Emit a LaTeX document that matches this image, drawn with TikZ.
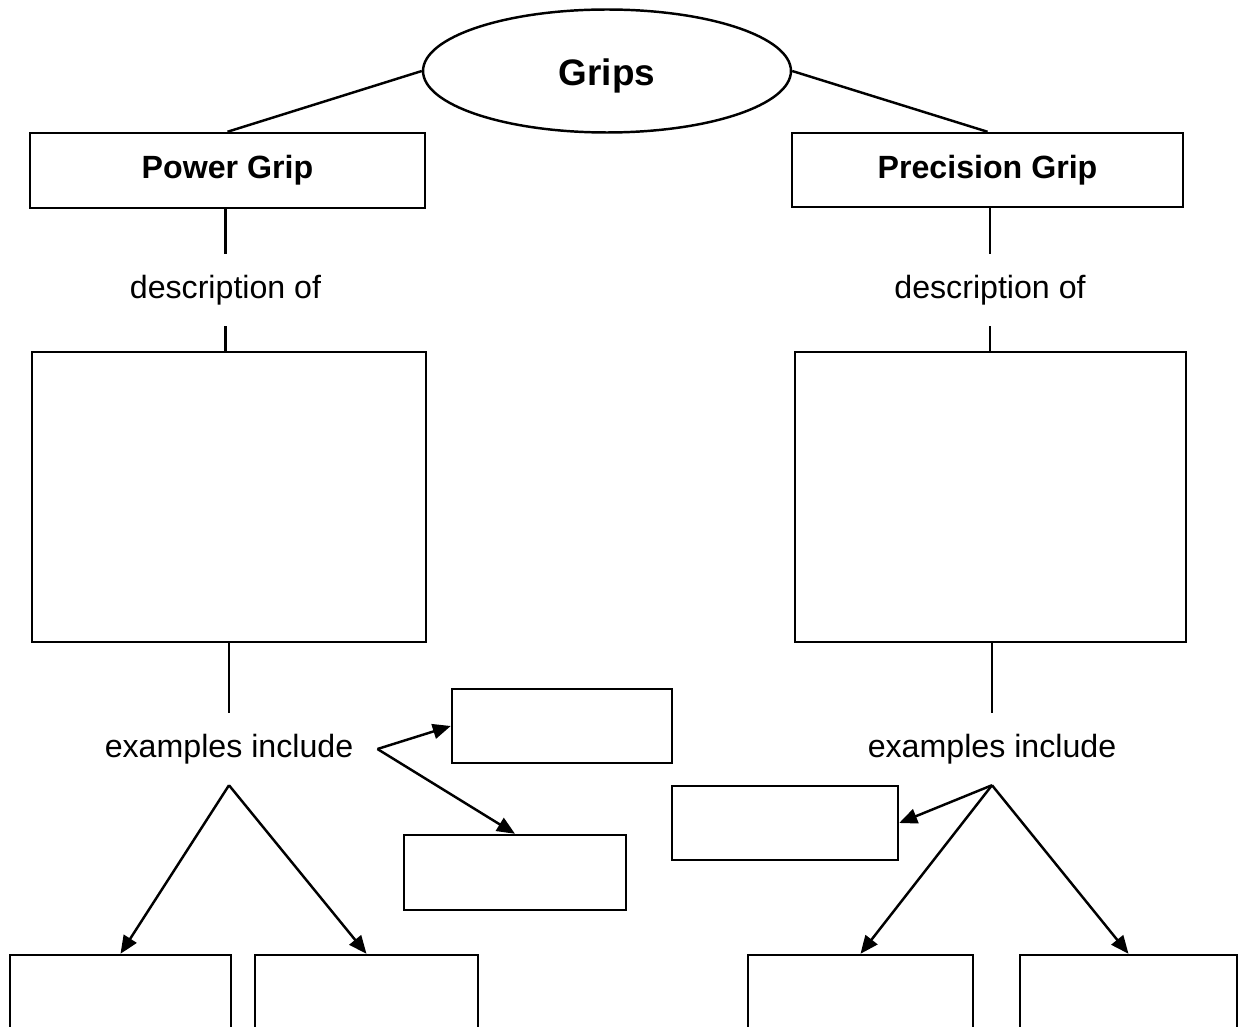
\documentclass[tikz,border=0pt]{standalone}
\usepackage{fontspec}
\setmainfont{Liberation Sans}
\usetikzlibrary{shapes.geometric,arrows.meta}
\begin{document}
\begin{tikzpicture}[x = .02cm, y = -.02cm, line width = 1.4pt,
    every node/.style = {font = \fontsize{18.3}{22}\selectfont},
    box/.style = {draw, inner sep = 0pt},
    link/.style = {inner sep = 0pt, minimum height = 1.4cm},
    arr/.style = {-{Triangle[length = .36cm, width = .3cm]}}]
  \useasboundingbox (0,0) rectangle (1238,1027);
  \clip (0,0) rectangle (1238,1027);
  \node [draw, ellipse, inner sep = 0pt, minimum width = 7.36cm, minimum height = 2.46cm,
    text height = 16pt, text depth = 0pt,
    font = \fontsize{21}{25}\selectfont\bfseries] (grips) at (607,71) {Grips};
  \node [box, minimum width = 7.9cm, minimum height = 1.5cm, font = \fontsize{18.3}{22}\selectfont\bfseries]
    (power) at (227.5,170.5) {Power Grip};
  \node [box, minimum width = 7.82cm, minimum height = 1.48cm, font = \fontsize{18.3}{22}\selectfont\bfseries]
    (precision) at (987.5,170) {Precision Grip};
  \draw (grips.west) -- (power.north);
  \draw (grips.east) -- (precision.north);
  % description of
  \node [link] (pdesc) at (225.5,290) {description of};
  \node [link] (qdesc) at (990,290) {description of};
  \node [box, minimum width = 7.88cm, minimum height = 5.8cm] (pbig) at (229,497) {};
  \node [box, minimum width = 7.82cm, minimum height = 5.8cm] (qbig) at (990.5,497) {};
  \draw (power.south -| pdesc.north) -- (pdesc.north);
  \draw (pdesc.south) -- (pbig.north -| pdesc.south);
  \draw (precision.south -| qdesc.north) -- (qdesc.north);
  \draw (qdesc.south) -- (qbig.north -| qdesc.south);
  % examples include
  \node [link, inner xsep = .46cm] (pex) at (229,749) {examples include};
  \node [link] (qex) at (992,749) {examples include};
  \draw (pbig.south -| pex.north) -- (pex.north);
  \draw (qbig.south -| qex.north) -- (qex.north);
  \node [box, minimum width = 4.4cm, minimum height = 1.48cm] (pa) at (562,726) {};
  \node [box, minimum width = 4.44cm, minimum height = 1.5cm] (pb) at (515,872.5) {};
  \node [box, minimum width = 4.42cm, minimum height = 4cm] (pc) at (120.5,1055) {};
  \node [box, minimum width = 4.46cm, minimum height = 4cm] (pd) at (366.5,1055) {};
  \node [box, minimum width = 4.52cm, minimum height = 1.48cm] (qa) at (785,823) {};
  \node [box, minimum width = 4.5cm, minimum height = 4cm] (qb) at (860.5,1055) {};
  \node [box, minimum width = 4.34cm, minimum height = 4cm] (qc) at (1128.5,1055) {};
  \draw [arr] (pex.east) -- (pa.west);
  \draw [arr] (pex.east) -- (pb.north);
  \draw [arr] (pex.south) -- (pc.north);
  \draw [arr] (pex.south) -- (pd.north);
  \draw [arr] (qex.south) -- (qa.east);
  \draw [arr] (qex.south) -- (qb.north);
  \draw [arr] (qex.south) -- (qc.north);
\end{tikzpicture}
\end{document}
